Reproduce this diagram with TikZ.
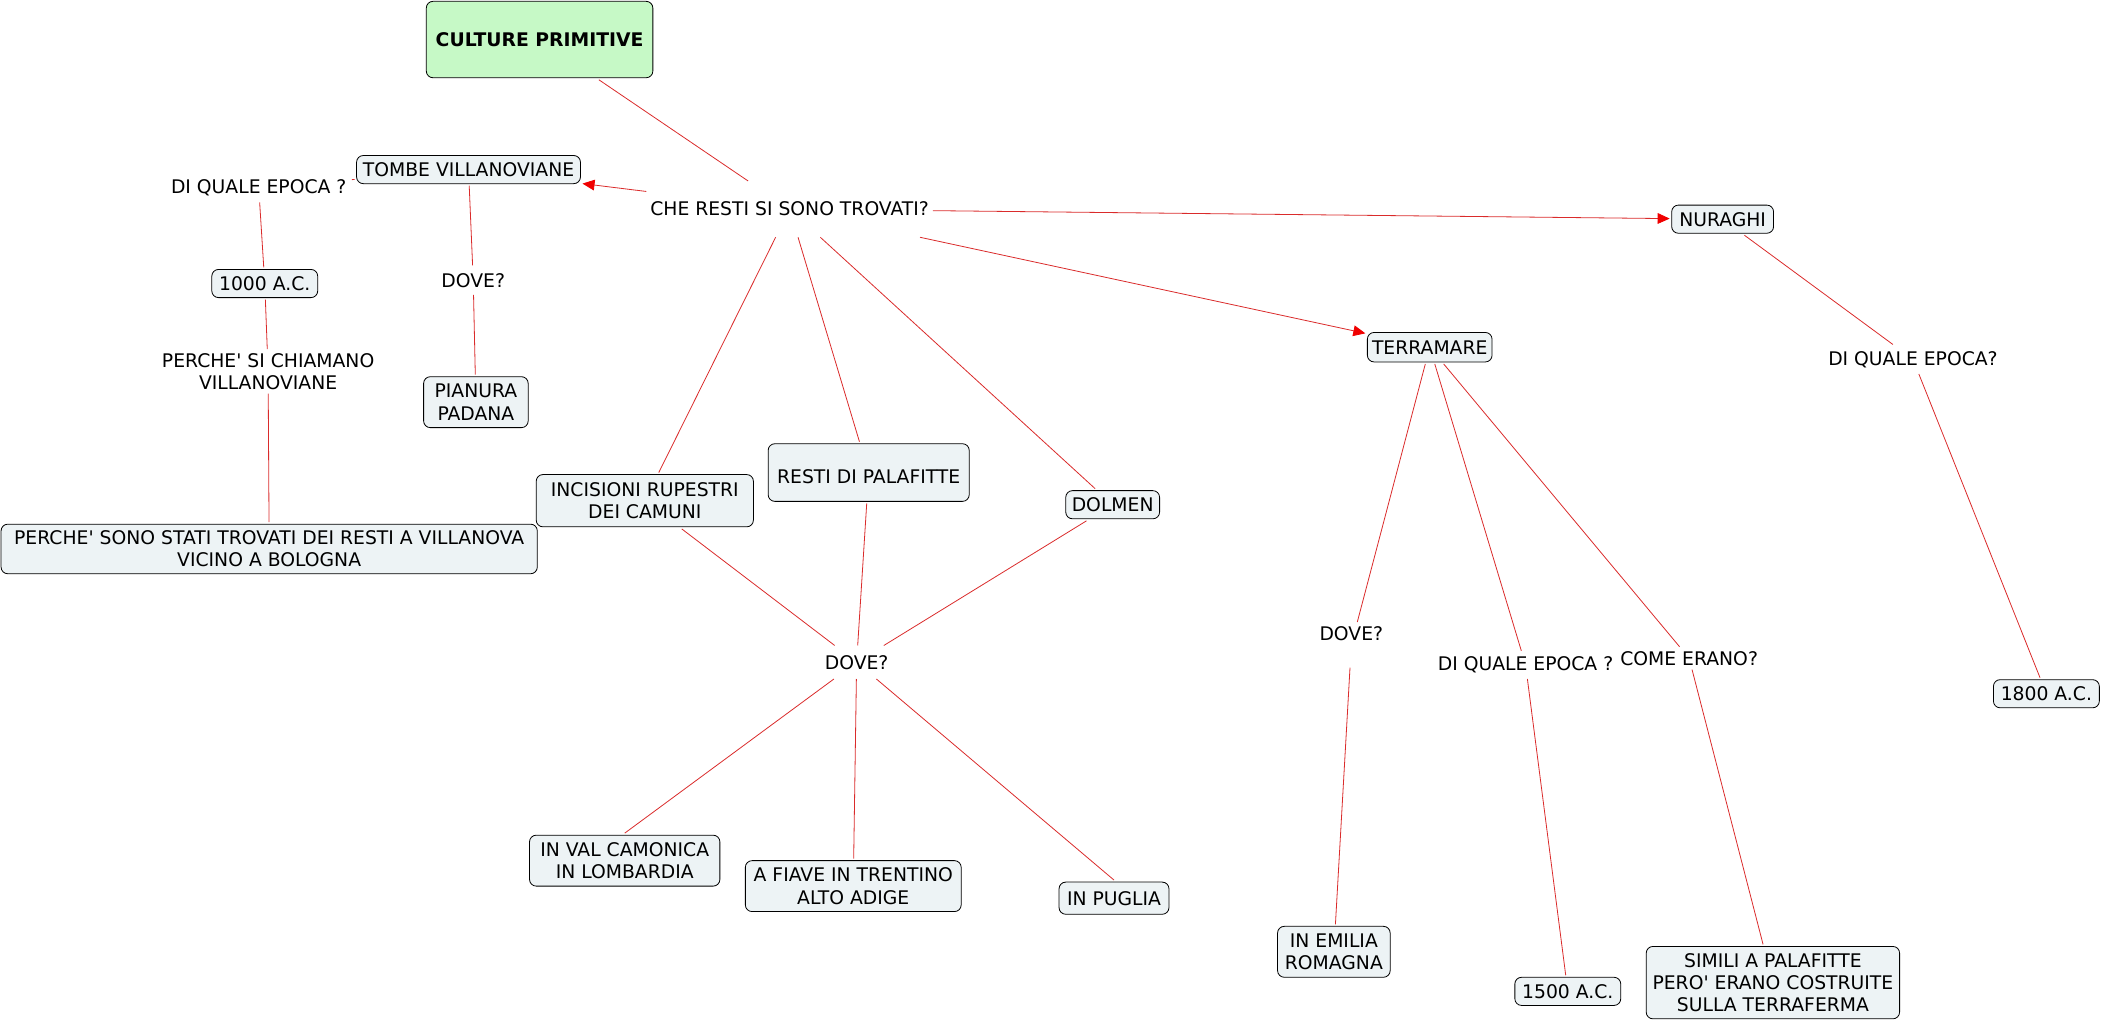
\documentclass[tikz,border=0pt]{standalone}
\usepackage{fontspec}
\setmainfont{DejaVu Sans}
\usetikzlibrary{arrows.meta}
\definecolor{linkred}{HTML}{DA2B2B}
\definecolor{tipred}{HTML}{F00000}
\definecolor{boxfill}{HTML}{EDF3F5}
\definecolor{topfill}{HTML}{C6F9C6}
\newcommand{\apo}{\textquotesingle}

\begin{document}
\begin{tikzpicture}[x=1pt,y=-1pt,
  box/.style={draw=black,line width=.6pt,fill=boxfill,rounded corners=5pt,align=center,
    inner xsep=3pt,inner ysep=2pt,outer sep=1.5pt,font=\fontsize{14}{16.5}\selectfont},
  ask/.style={align=center,inner xsep=3pt,inner ysep=2pt,minimum height=20pt,outer sep=1pt,
    font=\fontsize{14}{16.5}\selectfont},
  link/.style={draw=linkred,line width=.6pt},
  arr/.style={link,-{Triangle[length=9pt,width=8pt,color=tipred]}}]
\path[use as bounding box] (0,0) rectangle (1568,762);

% title and first question
\node[box,fill=topfill,font=\bfseries\fontsize{14}{16.5}\selectfont,minimum width=169pt,minimum height=57pt] (cult) at (402.5,29.5) {CULTURE PRIMITIVE};
\node[ask,minimum height=40pt,inner xsep=2pt] (che) at (589,156) {CHE RESTI SI SONO TROVATI?};

% tombe villanoviane
\node[box,minimum width=167pt,minimum height=21pt] (tombe) at (349.5,126.5) {TOMBE VILLANOVIANE};
\node[ask] (epocaA) at (193,140) {DI QUALE EPOCA ?};
\node[box,minimum width=79pt,minimum height=21pt] (milleA) at (197.5,211.5) {1000 A.C.};
\node[ask] (chiamano) at (200,277) {PERCHE\apo{} SI CHIAMANO\\VILLANOVIANE};
\node[box,minimum width=400pt,minimum height=37pt] (perche) at (200.8,409.5) {PERCHE\apo{} SONO STATI TROVATI DEI RESTI A VILLANOVA\\VICINO A BOLOGNA};
\node[ask] (doveA) at (353,209) {DOVE?};
\node[box,minimum width=78pt,minimum height=38pt] (pianura) at (355,300) {PIANURA\\PADANA};

% incisioni, palafitte, dolmen
\node[box,minimum width=162pt,minimum height=39pt] (incis) at (481,373.5) {INCISIONI RUPESTRI\\DEI CAMUNI};
\node[box,minimum width=150pt,minimum height=43pt] (palaf) at (648,352.5) {\mbox{}\\RESTI DI PALAFITTE};
\node[box,minimum width=70pt,minimum height=21pt] (dolmen) at (830,376.5) {DOLMEN};
\node[ask,minimum height=23pt] (doveB) at (639,494) {DOVE?};
\node[box,minimum width=142pt,minimum height=38pt] (valcam) at (466,642) {IN VAL CAMONICA\\IN LOMBARDIA};
\node[box,minimum width=161pt,minimum height=38pt] (fiave) at (636.5,661) {A FIAVE IN TRENTINO\\ALTO ADIGE};
\node[box,minimum width=82pt,minimum height=24pt] (puglia) at (831,670) {IN PUGLIA};

% terramare
\node[box,minimum width=93pt,minimum height=22pt] (terra) at (1066.5,259) {TERRAMARE};
\node[ask,minimum height=32pt] (doveC) at (1008,481) {DOVE?\\\mbox{}};
\node[ask,minimum height=19pt] (epocaB) at (1138,496) {DI QUALE EPOCA ?};
\node[ask,minimum height=15pt] (come) at (1260,491) {COME ERANO?};
\node[box,minimum width=84pt,minimum height=38pt] (emilia) at (995,710) {IN EMILIA\\ROMAGNA};
\node[box,minimum width=79pt,minimum height=21pt] (milleB) at (1169.5,739.5) {1500 A.C.};
\node[box,minimum width=189pt,minimum height=54pt] (simili) at (1322.5,733) {SIMILI A PALAFITTE\\PERO\apo{} ERANO COSTRUITE\\SULLA TERRAFERMA};

% nuraghi
\node[box,minimum width=76pt,minimum height=21pt] (nuraghi) at (1285,163.5) {NURAGHI};
\node[ask] (epocaC) at (1427,268) {DI QUALE EPOCA?};
\node[box,minimum width=79pt,minimum height=21pt] (milleC) at (1526.5,517.5) {1800 A.C.};

% connectors
\draw[link] (cult) -- (che);
\draw[arr] (che) -- (tombe);
\draw[arr] (che) -- (nuraghi);
\draw[arr] (che) -- (terra);
\draw[link] (che) -- (incis);
\draw[link] (che) -- (palaf);
\draw[link] (che) -- (dolmen);
\draw[link] (tombe) -- (epocaA);
\draw[link] (epocaA) -- (milleA);
\draw[link] (milleA) -- (chiamano);
\draw[link] (chiamano) -- (perche);
\draw[link] (tombe) -- (doveA);
\draw[link] (doveA) -- (pianura);
\draw[link] (incis) -- (doveB);
\draw[link] (palaf) -- (doveB);
\draw[link] (dolmen) -- (doveB);
\draw[link] (doveB) -- (valcam.north);
\draw[link] (doveB) -- (fiave);
\draw[link] (doveB) -- (puglia.north);
\draw[link] (terra) -- (doveC);
\draw[link] (doveC) -- (emilia);
\draw[link] (terra) -- (epocaB);
\draw[link] (epocaB) -- (milleB);
\draw[link] (terra) -- (come);
\draw[link] (come) -- (simili);
\draw[link] (nuraghi) -- (epocaC);
\draw[link] (epocaC) -- (milleC);
\end{tikzpicture}
\end{document}
